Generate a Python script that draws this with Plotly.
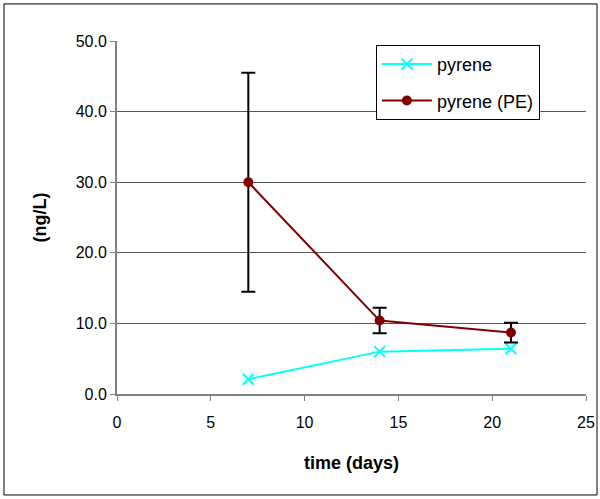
import plotly.graph_objects as go

days = [7, 14, 21]
pyrene = [2.1, 6.0, 6.4]
pyrene_pe = [30.0, 10.4, 8.7]
pyrene_pe_err = [15.5, 1.8, 1.4]

FONT = "Liberation Sans, Arial, sans-serif"

fig = go.Figure()
fig.add_trace(go.Scatter(
    x=days, y=pyrene, name="pyrene", mode="lines+markers", legendgroup="a",
    line=dict(color="#00FFFF", width=2),
    marker=dict(symbol="x-thin", size=11, line=dict(color="#00FFFF", width=2), color="#00FFFF"),
))
fig.add_trace(go.Scatter(
    x=days, y=pyrene_pe, name="pyrene (PE)", mode="lines+markers", legendgroup="b",
    line=dict(color="#800000", width=2),
    marker=dict(symbol="circle", size=10, color="#800000"),
    error_y=dict(type="data", array=pyrene_pe_err, visible=True, color="black", thickness=2, width=7),
))

fig.update_layout(
    width=600, height=499, autosize=False,
    margin=dict(l=117, r=14, t=41, b=105, autoexpand=False),
    paper_bgcolor="white", plot_bgcolor="white",
    font=dict(family=FONT, size=16, color="black"),
    showlegend=True,
    legend=dict(x=0.552, y=0.989, xanchor="left", yanchor="top",
                bordercolor="black", borderwidth=1, bgcolor="white",
                font=dict(size=18), tracegroupgap=10, itemwidth=50),
    xaxis=dict(range=[0, 25], tickvals=[0, 5, 10, 15, 20, 25], showgrid=False,
               showline=True, linecolor="#808080", linewidth=2,
               ticks="outside", ticklen=5, tickcolor="#808080", tickwidth=1,
               ticklabelstandoff=8, zeroline=False, automargin=False,
               title=dict(text="<b>time (days)</b>", font=dict(size=18), standoff=26)),
    yaxis=dict(range=[0, 50], tickvals=[0, 10, 20, 30, 40, 50], tickformat=".1f",
               showgrid=True, gridcolor="#555555", gridwidth=1,
               showline=True, linecolor="#808080", linewidth=2,
               ticks="outside", ticklen=5, tickcolor="#808080", tickwidth=1,
               zeroline=False, automargin=False,
               title=dict(text="<b>(ng/L)</b>", font=dict(size=18), standoff=24)),
    shapes=[dict(type="rect", xref="paper", yref="paper",
                 x0=-0.241, x1=1.0235, y0=-0.286, y1=1.105,
                 line=dict(color="black", width=1), fillcolor="rgba(0,0,0,0)", layer="below")],
)

fig.write_html("out.html",
               config={"displayModeBar": False, "responsive": False},
               post_script="document.body.style.margin='0';document.body.style.overflow='hidden';")
